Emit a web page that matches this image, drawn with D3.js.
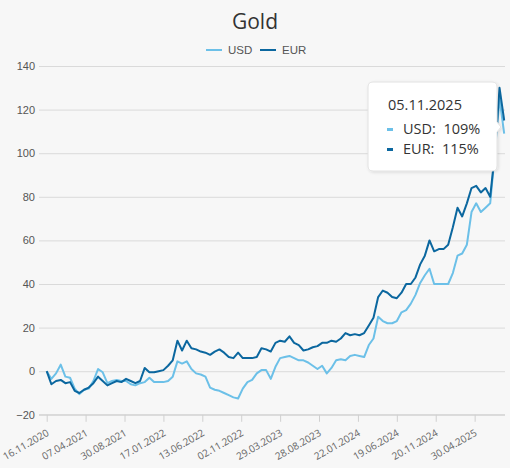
<!DOCTYPE html>
<html><head><meta charset="utf-8">
<script src="https://cdn.jsdelivr.net/npm/d3@7"></script>
<style>
body{margin:0;background:#f7f7f7;}
svg{display:block;}
</style>
</head><body>
<svg id="chart" width="510" height="468"></svg>
<script>
const title = "Gold";
const seriesNames = ["USD", "EUR"];
const tickLabels = ["16.11.2020","07.04.2021","30.08.2021","17.01.2022","13.06.2022","02.11.2022","29.03.2023","28.08.2023","22.01.2024","19.06.2024","20.11.2024","30.04.2025"];
const tickIndex = [0,100,200,300,400,500,600,700,800,900,1000,1100];
const yTicks = [-20,0,20,40,60,80,100,120,140];
const sampleStep = 12;
const usd = [0,-3.5,-1,3,-2.5,-3,-8,-10.5,-8.5,-8,
  -4.5,1,-0.5,-5.5,-4.5,-4,-4.5,-4.5,-6,-6.5,
  -5.5,-5,-3,-5,-5,-5,-4.5,-2.5,4.5,3.5,
  4.5,1,-1,-1.5,-2.5,-7.5,-8.5,-9,-10,-11,
  -12,-12.5,-8,-5,-4,-1,0.5,0.5,-3.5,2,
  6,6.5,7,6,5,5,4,2.5,1,2.5,
  -1,1.5,5,5.5,5,7,7.5,7,6.5,12,
  15,25,23,22,22,23,27,28,31,35,
  40.5,44,47,40,40,40,40,45,53,54,
  58,73,77,73,75,77,100,125,109];
const eur = [0,-6,-4.5,-4,-5.5,-5,-9,-10,-8.5,-7.5,
  -5.5,-2.5,-4.5,-6.5,-5.5,-4.5,-5,-3.5,-4.5,-5.5,
  -4.5,1.5,-0.5,-0.5,0,0.5,2.5,5,14,9.5,
  14,10.5,10,9,8.5,7.5,9,10,8.5,6.5,
  6,8.5,6,6,6,6.5,10.5,10,9,13,
  14,13.5,16,13,12,9.5,10,11,11.5,13,
  13,14,13.5,15,17.5,16.5,17,16.5,17.5,21,
  24.5,34,37,36,34,33.5,36,40,40,43,
  49,53,60,55,56,56,58,66,75,71,
  77,84,85,82,84,80,100,130,115];
const tooltipDate = "05.11.2025";
const tooltipValues = ["109%", "115%"];
const colors = ["#6cc0e8", "#0b679f"];

const svg = d3.select("#chart");
const W = 510, H = 468;
const x = d3.scaleLinear().domain([0, (usd.length - 1) * sampleStep]).range([46.7, 504.2]);
const y = d3.scaleLinear().domain([-20, 140]).range([414.8, 66]);
const plotLeft = 39, plotRight = 505;

svg.append("rect").attr("width", W).attr("height", H).attr("fill", "#f7f7f7");

// title
svg.append("text").attr("x", W/2).attr("y", 29).attr("text-anchor", "middle")
  .attr("font-family", "'Open Sans', sans-serif").attr("font-size", 21)
  .attr("fill", "#333").text(title);

// legend
const legend = svg.append("g");
const legendX = [206, 260];
seriesNames.forEach((n, i) => {
  legend.append("line").attr("x1", legendX[i]).attr("x2", legendX[i] + 16)
    .attr("y1", 50).attr("y2", 50).attr("stroke", colors[i]).attr("stroke-width", 2);
  legend.append("text").attr("x", legendX[i] + 22).attr("y", 54)
    .attr("font-family", "'Liberation Sans', Arial, sans-serif").attr("font-size", 11.5)
    .attr("fill", "#555").text(n);
});

// grid + y labels
const yAxis = d3.axisLeft(y).tickValues(yTicks).tickSize(-(plotRight - plotLeft)).tickPadding(4);
const gy = svg.append("g").attr("transform", `translate(${plotLeft},0)`).call(yAxis);
gy.select(".domain").remove();
gy.selectAll(".tick line").attr("stroke", "#dadada").attr("stroke-width", 1);
gy.selectAll(".tick text").attr("font-family", "'Liberation Sans', Arial, sans-serif")
  .attr("font-size", 11).attr("fill", "#555").attr("x", -4);

// x axis
const xAxis = d3.axisBottom(x).tickValues(tickIndex).tickFormat((d, i) => tickLabels[i]).tickSize(7).tickPadding(4);
const gx = svg.append("g").attr("transform", `translate(0,${y(-20)})`).call(xAxis);
gx.select(".domain").attr("d", `M${plotLeft},0H${plotRight}`).attr("stroke", "#d0d0d0");
gx.selectAll(".tick line").attr("stroke", "#d0d0d0");
gx.selectAll(".tick text")
  .attr("font-family", "'Open Sans', sans-serif").attr("font-size", 10).attr("fill", "#666")
  .attr("text-anchor", "end").attr("dy", null)
  .attr("transform", "translate(2.5,20) rotate(-30)").attr("y", 0).attr("x", 0);

// lines
const line = d3.line().x((d, i) => x(i * sampleStep)).y(d => y(d)).curve(d3.curveLinear);
[usd, eur].forEach((s, i) => {
  svg.append("path").datum(s).attr("d", line).attr("fill", "none")
    .attr("stroke", colors[i]).attr("stroke-width", 2).attr("stroke-linejoin", "round");
});

// tooltip
const defs = svg.append("defs");
const f = defs.append("filter").attr("id", "sh").attr("x", "-20%").attr("y", "-20%").attr("width", "140%").attr("height", "140%");
f.append("feDropShadow").attr("dx", 1).attr("dy", 1).attr("stdDeviation", 1.5).attr("flood-color", "#000").attr("flood-opacity", 0.12);
const tx = 368, ty = 82, tw = 129, th = 89;
const tip = svg.append("g");
const r = 5, py = 127;
const tipPath = `M${tx+r},${ty}H${tx+tw-r}Q${tx+tw},${ty} ${tx+tw},${ty+r}V${py-5}L${tx+tw+4},${py}L${tx+tw},${py+5}V${ty+th-r}Q${tx+tw},${ty+th} ${tx+tw-r},${ty+th}H${tx+r}Q${tx},${ty+th} ${tx},${ty+th-r}V${ty+r}Q${tx},${ty} ${tx+r},${ty}Z`;
tip.append("path").attr("d", tipPath).attr("fill", "#fff").attr("stroke", "#e2e2e2").attr("stroke-width", 1).attr("filter", "url(#sh)");
tip.append("text").attr("x", 388).attr("y", 110).attr("font-family", "'Open Sans', sans-serif")
  .attr("font-size", 14.5).attr("fill", "#333").text(tooltipDate);
const rowY = [134, 154];
seriesNames.forEach((n, i) => {
  tip.append("line").attr("x1", 387).attr("x2", 393).attr("y1", rowY[i] - 4.5).attr("y2", rowY[i] - 4.5)
    .attr("stroke", colors[i]).attr("stroke-width", 3);
  tip.append("text").attr("x", 403).attr("y", rowY[i]).attr("font-family", "'Open Sans', sans-serif")
    .attr("font-size", 14.5).attr("fill", "#333").attr("xml:space", "preserve").text(n + ":  " + tooltipValues[i]);
});
</script>
</body></html>
